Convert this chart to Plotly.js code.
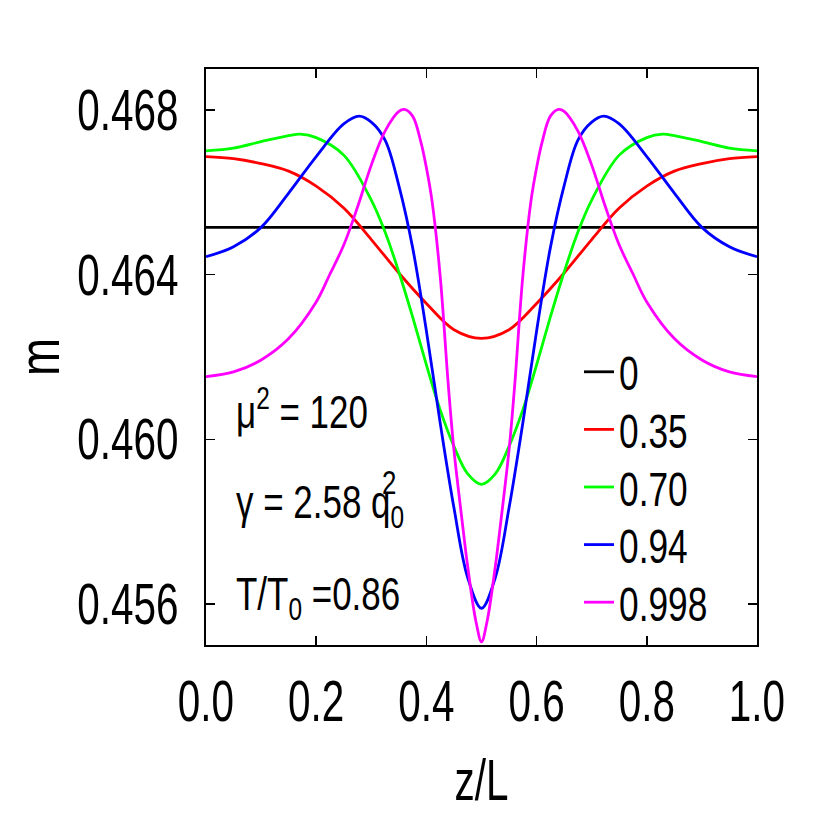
<!DOCTYPE html>
<html>
<head>
<meta charset="utf-8">
<script src="https://cdn.plot.ly/plotly-3.0.1.min.js"></script>
<style>html,body{margin:0;padding:0;background:#fff;}#chart{width:830px;height:830px;}</style>
</head>
<body>
<div id="chart"></div>
<script>
// ---- data ----
const seriesNames = ['0', '0.35', '0.70', '0.94', '0.998'];

const zBlack = [0, 1];
const mBlack = [0.465151, 0.465151];

const zRed = [0, 0.05, 0.1, 0.15, 0.2, 0.25, 0.3, 0.35, 0.4, 0.45, 0.5,
              0.55, 0.6, 0.65, 0.7, 0.75, 0.8, 0.85, 0.9, 0.95, 1];
const mRed = [0.466871, 0.466822, 0.466701, 0.466518, 0.466154, 0.465620, 0.464855, 0.464041, 0.463300, 0.462664, 0.462455,
              0.462664, 0.463300, 0.464041, 0.464855, 0.465620, 0.466154, 0.466518, 0.466701, 0.466822, 0.466871];

const zGreen = [0, 0.05, 0.1, 0.15, 0.171, 0.2, 0.25, 0.3, 0.325, 0.35, 0.375, 0.4, 0.425, 0.45, 0.475, 0.5,
                0.525, 0.55, 0.575, 0.6, 0.625, 0.65, 0.675, 0.7, 0.75, 0.8, 0.829, 0.85, 0.9, 0.95, 1];
const mGreen = [0.467012, 0.467077, 0.467235, 0.467381, 0.467417, 0.467332, 0.466907, 0.465814, 0.465037, 0.464066, 0.462973, 0.461807, 0.460714, 0.459827, 0.459160, 0.458905,
                0.459160, 0.459827, 0.460714, 0.461807, 0.462973, 0.464066, 0.465037, 0.465814, 0.466907, 0.467332, 0.467417, 0.467381, 0.467235, 0.467077, 0.467012];

const zBlue = [0, 0.05, 0.1, 0.15, 0.2, 0.25, 0.278, 0.3, 0.325, 0.35, 0.375, 0.4, 0.425, 0.45, 0.475, 0.5,
               0.525, 0.55, 0.575, 0.6, 0.625, 0.65, 0.675, 0.7, 0.722, 0.75, 0.8, 0.85, 0.9, 0.95, 1];
const mBlue = [0.464437, 0.464680, 0.465151, 0.465984, 0.466873, 0.467665, 0.467854, 0.467709, 0.467271, 0.466166, 0.464658, 0.462633, 0.460398, 0.458334, 0.456634, 0.455893,
               0.456634, 0.458334, 0.460398, 0.462633, 0.464658, 0.466166, 0.467271, 0.467709, 0.467854, 0.467665, 0.466873, 0.465984, 0.465151, 0.464680, 0.464437];

const zMagenta = [0, 0.05, 0.1, 0.15, 0.2, 0.225, 0.25, 0.275, 0.3, 0.325, 0.35, 0.36, 0.375, 0.39, 0.4, 0.41, 0.425, 0.44, 0.45, 0.465, 0.475, 0.49, 0.5,
                  0.51, 0.525, 0.535, 0.55, 0.56, 0.575, 0.59, 0.6, 0.61, 0.625, 0.64, 0.65, 0.675, 0.7, 0.725, 0.75, 0.775, 0.8, 0.85, 0.9, 0.95, 1];
const mMagenta = [0.461523, 0.461637, 0.461928, 0.462448, 0.463337, 0.464017, 0.464721, 0.465644, 0.466664, 0.467490, 0.467968, 0.468017, 0.467854, 0.467223, 0.466601, 0.465814, 0.463968, 0.461273, 0.459742, 0.457994, 0.456901, 0.455565, 0.455079,
                  0.455565, 0.456901, 0.457994, 0.459742, 0.461273, 0.463968, 0.465814, 0.466601, 0.467223, 0.467854, 0.468017, 0.467968, 0.467490, 0.466664, 0.465644, 0.464721, 0.464017, 0.463337, 0.462448, 0.461928, 0.461637, 0.461523];

const xTickVals = [0, 0.2, 0.4, 0.6, 0.8, 1.0];
const xTickText = ['0.0', '0.2', '0.4', '0.6', '0.8', '1.0'];
const yTickVals = [0.456, 0.460, 0.464, 0.468];
const yTickText = ['0.456', '0.460', '0.464', '0.468'];

// ---- styling ----
const FONT = '"Liberation Sans", Arial, sans-serif';
const colors = ['#000000', '#ff0000', '#00ff00', '#0000ff', '#ff00ff'];
const xs = [zBlack, zRed, zGreen, zBlue, zMagenta];
const ys = [mBlack, mRed, mGreen, mBlue, mMagenta];

const traces = xs.map((x, i) => ({
  type: 'scatter', mode: 'lines', x: x, y: ys[i], name: seriesNames[i],
  line: {color: colors[i], width: 2.8, shape: 'spline', smoothing: 1.0}
}));

const axisCommon = {
  showline: true, linecolor: '#000', linewidth: 2, mirror: 'ticks',
  ticks: 'inside', ticklen: 9, tickwidth: 1.5, tickcolor: '#000',
  showgrid: false, zeroline: false,
  tickfont: {family: FONT, size: 57, color: '#000'}
};

const layout = {
  width: 830, height: 830,
  margin: {l: 206, r: 73, t: 69, b: 185},
  paper_bgcolor: '#fff', plot_bgcolor: '#fff',
  font: {family: FONT, color: '#000'},
  showlegend: true,
  legend: {x: 0.677, y: 0.533, xanchor: 'left', yanchor: 'top', bgcolor: 'rgba(0,0,0,0)',
           font: {family: FONT, size: 42, color: '#000'}, tracegroupgap: 0},
  xaxis: Object.assign({}, axisCommon, {
    range: [0, 1], tickmode: 'array', tickvals: xTickVals, ticktext: xTickText,
    ticklabelstandoff: 6,
    title: {text: 'z/L', font: {family: FONT, size: 57, color: '#000'}, standoff: 28}
  }),
  yaxis: Object.assign({}, axisCommon, {
    range: [0.455, 0.469], tickmode: 'array', tickvals: yTickVals, ticktext: yTickText,
    ticklabelstandoff: 14,
    title: {text: 'm', font: {family: FONT, size: 57, color: '#000'}, standoff: 0}
  }),
  annotations: [
    {xref: 'paper', yref: 'paper', x: 0.05, y: 0.41, xanchor: 'left', yanchor: 'middle', showarrow: false,
     text: 'μ<sup>2</sup> = 120', font: {family: FONT, size: 46, color: '#000'}},
    {xref: 'paper', yref: 'paper', x: 0.05, y: 0.243, xanchor: 'left', yanchor: 'middle', showarrow: false,
     text: 'γ = 2.58 q<sub>0</sub>', font: {family: FONT, size: 46, color: '#000'}},
    {xref: 'paper', yref: 'paper', x: 0.316, y: 0.283, xanchor: 'left', yanchor: 'middle', showarrow: false,
     text: '2', font: {family: FONT, size: 34, color: '#000'}},
    {xref: 'paper', yref: 'paper', x: 0.05, y: 0.083, xanchor: 'left', yanchor: 'middle', showarrow: false,
     text: 'T/T<sub>0</sub> =0.86', font: {family: FONT, size: 46, color: '#000'}}
  ]
};

// condensing of text (the reference uses a narrow typeface); pivot keeps one edge fixed
function condense(gd, selector, sx, sy, pivot, dx) {
  gd.querySelectorAll(selector).forEach(t => {
    const bb = t.getBBox();
    const px = pivot === 'left' ? bb.x : (pivot === 'right' ? bb.x + bb.width : bb.x + bb.width / 2);
    const py = bb.y + bb.height / 2;
    const prev = t.getAttribute('transform') || '';
    t.setAttribute('transform', (dx ? 'translate(' + dx + ',0) ' : '') + prev +
      ' translate(' + px + ',' + py + ') scale(' + sx + ',' + sy + ') translate(' + (-px) + ',' + (-py) + ')');
  });
}

const gd = document.getElementById('chart');
Plotly.newPlot(gd, traces, layout, {displayModeBar: false, staticPlot: true}).then(() => {
  condense(gd, '.xtick text', 0.71, 1, 'center');
  condense(gd, '.ytick text', 0.71, 1, 'right');
  condense(gd, '.xtitle', 0.71, 1, 'center');
  condense(gd, '.ytitle', 0.80, 1, 'center', 7);
  condense(gd, '.legendtext', 0.84, 1.15, 'left');
  condense(gd, '.annotation-text', 0.76, 1, 'left');
});
</script>
</body>
</html>
